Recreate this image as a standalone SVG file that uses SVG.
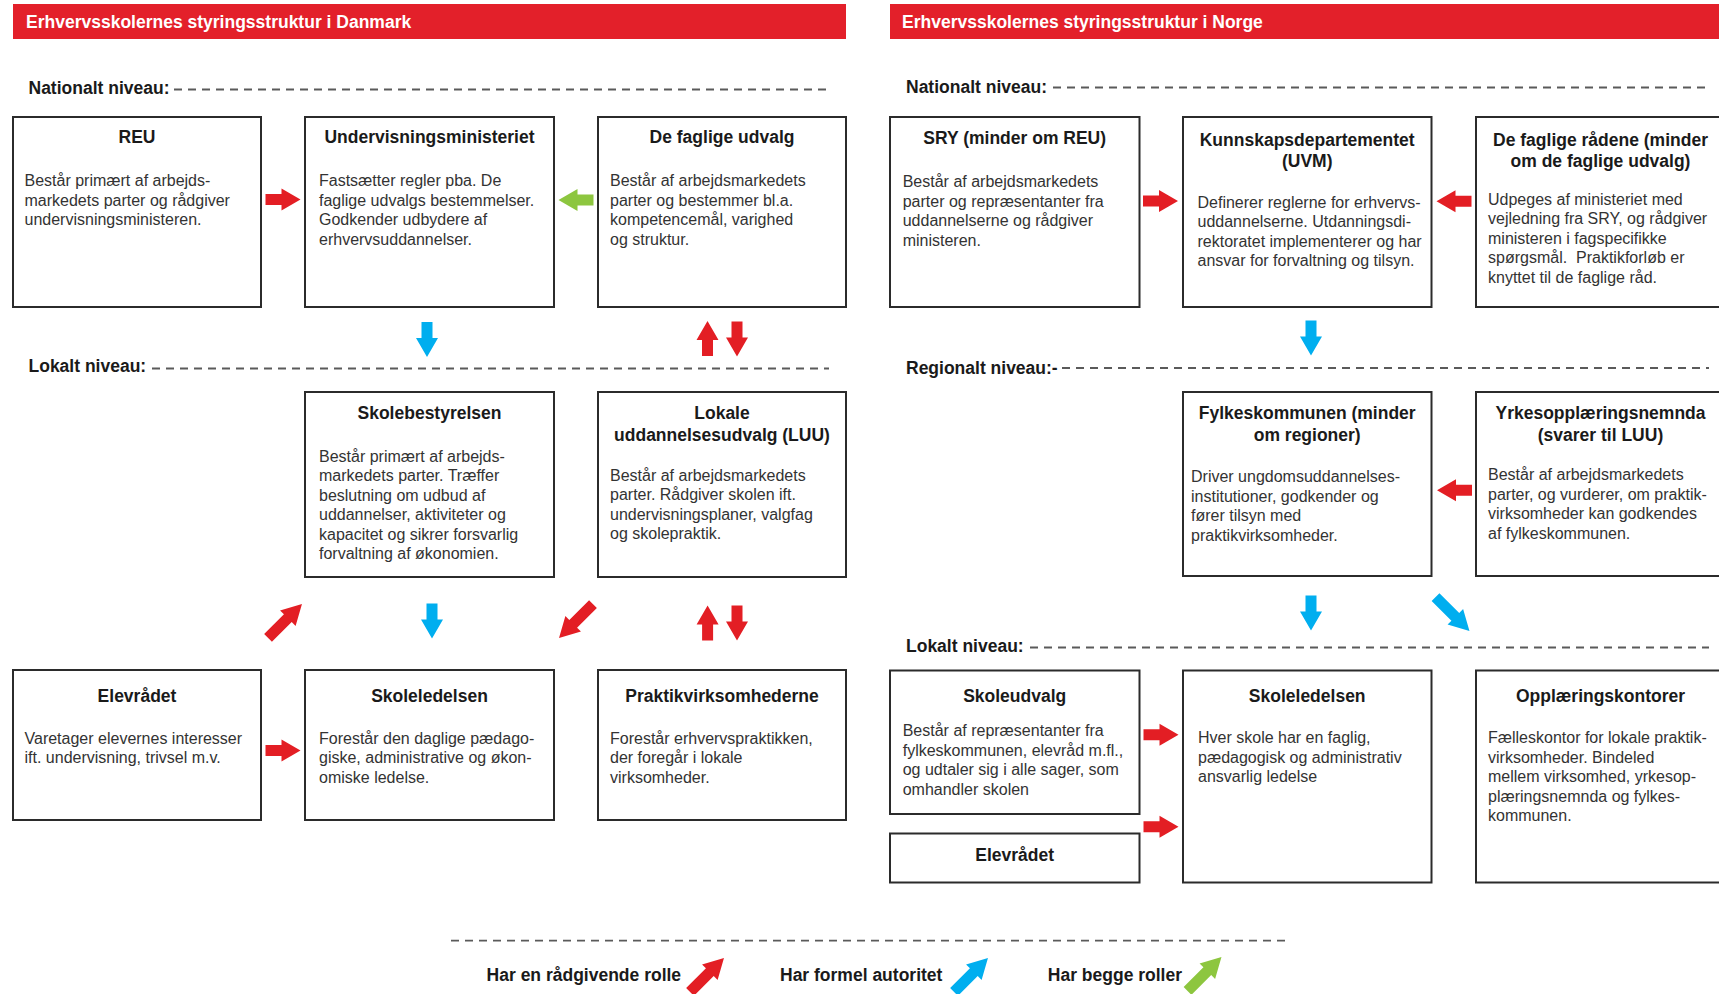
<svg xmlns="http://www.w3.org/2000/svg" xmlns:xlink="http://www.w3.org/1999/xlink" width="1719" height="994" viewBox="0 0 1719 994">
<style>
text{font-family:"Liberation Sans",Arial,Helvetica,sans-serif}
.h{font-weight:bold;font-size:17.5px;fill:#fff}
.lv{font-weight:bold;font-size:17.5px;fill:#1a1a1a}
.t{font-weight:bold;font-size:17.5px;fill:#1a1a1a;text-anchor:middle}
.b{font-size:16px;fill:#333}
.box{fill:#fff;stroke:#2b2b2b;stroke-width:2}
.dash{stroke:#5a5a5a;stroke-width:1.8;stroke-dasharray:8 6;fill:none}
.red{fill:#e31e24}
.blue{fill:#00aeef}
.green{fill:#8dc63f}
</style>
<defs>
<path id="a" d="M-17.5,-5.5 H-1.5 V-11 L17.5,0 L-1.5,11 V5.5 H-17.5 Z"/>
<path id="d" d="M-24,-5.5 H4 V-11 L24,0 L4,11 V5.5 H-24 Z"/>
</defs>
<rect width="1719" height="994" fill="#fff"/>

<g id="headers">
<rect x="13" y="4" width="833" height="35" fill="#e3202a"/>
<text class="h" x="26" y="28">Erhvervsskolernes styringsstruktur i Danmark</text>
<rect x="890" y="4" width="829" height="35" fill="#e3202a"/>
<text class="h" x="902" y="28">Erhvervsskolernes styringsstruktur i Norge</text>
</g>

<g id="levels">
<text class="lv" x="28.5" y="94">Nationalt niveau:</text>
<line class="dash" x1="174" y1="89.5" x2="832" y2="89.5"/>
<text class="lv" x="28.5" y="372">Lokalt niveau:</text>
<line class="dash" x1="152" y1="368.5" x2="829" y2="368.5"/>
<text class="lv" x="906" y="92.5">Nationalt niveau:</text>
<line class="dash" x1="1053" y1="87.5" x2="1709" y2="87.5"/>
<text class="lv" x="906" y="374">Regionalt niveau:-</text>
<line class="dash" x1="1062" y1="368" x2="1709" y2="368"/>
<text class="lv" x="906" y="652">Lokalt niveau:</text>
<line class="dash" x1="1030" y1="647.5" x2="1709" y2="647.5"/>
</g>

<!-- Denmark -->
<g id="dk-reu">
<rect class="box" x="13" y="117" width="248" height="190"/>
<text class="t" x="137" y="143">REU</text>
<text class="b" x="24.5" y="186"><tspan x="24.5">Består primært af arbejds-</tspan><tspan x="24.5" dy="19.5">markedets parter og rådgiver</tspan><tspan x="24.5" dy="19.5">undervisningsministeren.</tspan></text>
</g>
<g id="dk-uvm">
<rect class="box" x="305" y="117" width="249" height="190"/>
<text class="t" x="429.5" y="143">Undervisningsministeriet</text>
<text class="b" x="319" y="186"><tspan x="319">Fastsætter regler pba. De</tspan><tspan x="319" dy="19.5">faglige udvalgs bestemmelser.</tspan><tspan x="319" dy="19.5">Godkender udbydere af</tspan><tspan x="319" dy="19.5">erhvervsuddannelser.</tspan></text>
</g>
<g id="dk-fu">
<rect class="box" x="598" y="117" width="248" height="190"/>
<text class="t" x="722" y="143">De faglige udvalg</text>
<text class="b" x="610" y="186"><tspan x="610">Består af arbejdsmarkedets</tspan><tspan x="610" dy="19.5">parter og bestemmer bl.a.</tspan><tspan x="610" dy="19.5">kompetencemål, varighed</tspan><tspan x="610" dy="19.5">og struktur.</tspan></text>
</g>
<g id="dk-skolebestyrelsen">
<rect class="box" x="305" y="392" width="249" height="185"/>
<text class="t" x="429.5" y="419">Skolebestyrelsen</text>
<text class="b" x="319" y="461.5"><tspan x="319">Består primært af arbejds-</tspan><tspan x="319" dy="19.5">markedets parter. Træffer</tspan><tspan x="319" dy="19.5">beslutning om udbud af</tspan><tspan x="319" dy="19.5">uddannelser, aktiviteter og</tspan><tspan x="319" dy="19.5">kapacitet og sikrer forsvarlig</tspan><tspan x="319" dy="19.5">forvaltning af økonomien.</tspan></text>
</g>
<g id="dk-luu">
<rect class="box" x="598" y="392" width="248" height="185"/>
<text class="t" x="722" y="419"><tspan x="722">Lokale</tspan><tspan x="722" dy="21.5">uddannelsesudvalg (LUU)</tspan></text>
<text class="b" x="610" y="480.5"><tspan x="610">Består af arbejdsmarkedets</tspan><tspan x="610" dy="19.5">parter. Rådgiver skolen ift.</tspan><tspan x="610" dy="19.5">undervisningsplaner, valgfag</tspan><tspan x="610" dy="19.5">og skolepraktik.</tspan></text>
</g>
<g id="dk-elevraadet">
<rect class="box" x="13" y="670" width="248" height="150"/>
<text class="t" x="137" y="702">Elevrådet</text>
<text class="b" x="24.5" y="743.5"><tspan x="24.5">Varetager elevernes interesser</tspan><tspan x="24.5" dy="19.5">ift. undervisning, trivsel m.v.</tspan></text>
</g>
<g id="dk-skoleledelsen">
<rect class="box" x="305" y="670" width="249" height="150"/>
<text class="t" x="429.5" y="702">Skoleledelsen</text>
<text class="b" x="319" y="743.5"><tspan x="319">Forestår den daglige pædago-</tspan><tspan x="319" dy="19.5">giske, administrative og økon-</tspan><tspan x="319" dy="19.5">omiske ledelse.</tspan></text>
</g>
<g id="dk-praktik">
<rect class="box" x="598" y="670" width="248" height="150"/>
<text class="t" x="722" y="702">Praktikvirksomhederne</text>
<text class="b" x="610" y="743.5"><tspan x="610">Forestår erhvervspraktikken,</tspan><tspan x="610" dy="19.5">der foregår i lokale</tspan><tspan x="610" dy="19.5">virksomheder.</tspan></text>
</g>

<!-- Norway -->
<g id="no-sry">
<rect class="box" x="890" y="117" width="249.5" height="190"/>
<text class="t" x="1014.7" y="144">SRY (minder om REU)</text>
<text class="b" x="902.7" y="187"><tspan x="902.7">Består af arbejdsmarkedets</tspan><tspan x="902.7" dy="19.5">parter og repræsentanter fra</tspan><tspan x="902.7" dy="19.5">uddannelserne og rådgiver</tspan><tspan x="902.7" dy="19.5">ministeren.</tspan></text>
</g>
<g id="no-kd">
<rect class="box" x="1183" y="117" width="248.5" height="190"/>
<text class="t" x="1307.2" y="146"><tspan x="1307.2">Kunnskapsdepartementet</tspan><tspan x="1307.2" dy="21">(UVM)</tspan></text>
<text class="b" x="1197.5" y="207.5"><tspan x="1197.5">Definerer reglerne for erhvervs-</tspan><tspan x="1197.5" dy="19.5">uddannelserne. Utdanningsdi-</tspan><tspan x="1197.5" dy="19.5">rektoratet implementerer og har</tspan><tspan x="1197.5" dy="19.5">ansvar for forvaltning og tilsyn.</tspan></text>
</g>
<g id="no-fr">
<rect class="box" x="1476" y="117" width="249" height="190"/>
<text class="t" x="1600.5" y="145.5"><tspan x="1600.5">De faglige rådene (minder</tspan><tspan x="1600.5" dy="21">om de faglige udvalg)</tspan></text>
<text class="b" x="1488" y="204.5"><tspan x="1488">Udpeges af ministeriet med</tspan><tspan x="1488" dy="19.5">vejledning fra SRY, og rådgiver</tspan><tspan x="1488" dy="19.5">ministeren i fagspecifikke</tspan><tspan x="1488" dy="19.5" xml:space="preserve">spørgsmål.  Praktikforløb er</tspan><tspan x="1488" dy="19.5">knyttet til de faglige råd.</tspan></text>
</g>
<g id="no-fylke">
<rect class="box" x="1183" y="392" width="248.5" height="184"/>
<text class="t" x="1307.2" y="419"><tspan x="1307.2">Fylkeskommunen (minder</tspan><tspan x="1307.2" dy="21.5">om regioner)</tspan></text>
<text class="b" x="1191" y="482"><tspan x="1191">Driver ungdomsuddannelses-</tspan><tspan x="1191" dy="19.5">institutioner, godkender og</tspan><tspan x="1191" dy="19.5">fører tilsyn med</tspan><tspan x="1191" dy="19.5">praktikvirksomheder.</tspan></text>
</g>
<g id="no-yrkes">
<rect class="box" x="1476" y="392" width="249" height="184"/>
<text class="t" x="1600.5" y="419"><tspan x="1600.5">Yrkesopplæringsnemnda</tspan><tspan x="1600.5" dy="21.5">(svarer til LUU)</tspan></text>
<text class="b" x="1488" y="480"><tspan x="1488">Består af arbejdsmarkedets</tspan><tspan x="1488" dy="19.5">parter, og vurderer, om praktik-</tspan><tspan x="1488" dy="19.5">virksomheder kan godkendes</tspan><tspan x="1488" dy="19.5">af fylkeskommunen.</tspan></text>
</g>
<g id="no-skoleudvalg">
<rect class="box" x="890" y="670.5" width="249.5" height="143.5"/>
<text class="t" x="1014.7" y="701.5">Skoleudvalg</text>
<text class="b" x="902.7" y="736"><tspan x="902.7">Består af repræsentanter fra</tspan><tspan x="902.7" dy="19.5">fylkeskommunen, elevråd m.fl.,</tspan><tspan x="902.7" dy="19.5">og udtaler sig i alle sager, som</tspan><tspan x="902.7" dy="19.5">omhandler skolen</tspan></text>
</g>
<g id="no-elevraadet">
<rect class="box" x="890" y="833.5" width="249.5" height="49"/>
<text class="t" x="1014.7" y="860.5">Elevrådet</text>
</g>
<g id="no-skoleledelsen">
<rect class="box" x="1183" y="670.5" width="248.5" height="212"/>
<text class="t" x="1307.2" y="701.5">Skoleledelsen</text>
<text class="b" x="1198" y="743"><tspan x="1198">Hver skole har en faglig,</tspan><tspan x="1198" dy="19.5">pædagogisk og administrativ</tspan><tspan x="1198" dy="19.5">ansvarlig ledelse</tspan></text>
</g>
<g id="no-opplaering">
<rect class="box" x="1476" y="670.5" width="249" height="212"/>
<text class="t" x="1600.5" y="701.5">Opplæringskontorer</text>
<text class="b" x="1488" y="743"><tspan x="1488">Fælleskontor for lokale praktik-</tspan><tspan x="1488" dy="19.5">virksomheder. Bindeled</tspan><tspan x="1488" dy="19.5">mellem virksomhed, yrkesop-</tspan><tspan x="1488" dy="19.5">plæringsnemnda og fylkes-</tspan><tspan x="1488" dy="19.5">kommunen.</tspan></text>
</g>

<g id="connectors">
<use xlink:href="#a" class="red" transform="translate(283,199.5)"/>
<use xlink:href="#a" class="green" transform="translate(576,200) rotate(180)"/>
<use xlink:href="#a" class="blue" transform="translate(427,339.5) rotate(90)"/>
<use xlink:href="#a" class="red" transform="translate(707.5,338.5) rotate(-90)"/>
<use xlink:href="#a" class="red" transform="translate(737,339) rotate(90)"/>
<use xlink:href="#d" class="red" transform="translate(285,621) rotate(-45)"/>
<use xlink:href="#a" class="blue" transform="translate(432,621) rotate(90)"/>
<use xlink:href="#d" class="red" transform="translate(576,621) rotate(135)"/>
<use xlink:href="#a" class="red" transform="translate(707.6,623) rotate(-90)"/>
<use xlink:href="#a" class="red" transform="translate(737,623) rotate(90)"/>
<use xlink:href="#a" class="red" transform="translate(283,750.5)"/>
<use xlink:href="#a" class="red" transform="translate(1160.5,201)"/>
<use xlink:href="#a" class="red" transform="translate(1454,201.3) rotate(180)"/>
<use xlink:href="#a" class="blue" transform="translate(1311,338) rotate(90)"/>
<use xlink:href="#a" class="red" transform="translate(1454.5,490.3) rotate(180)"/>
<use xlink:href="#a" class="blue" transform="translate(1311,613) rotate(90)"/>
<use xlink:href="#d" class="blue" transform="translate(1452.5,614) rotate(45)"/>
<use xlink:href="#a" class="red" transform="translate(1161,734.8)"/>
<use xlink:href="#a" class="red" transform="translate(1161,826.8)"/>
</g>

<g id="legend">
<line class="dash" x1="451" y1="940.7" x2="1285" y2="940.7"/>
<text class="lv" x="486.6" y="981">Har en rådgivende rolle</text>
<use xlink:href="#d" class="red" transform="translate(707,975) rotate(-45)"/>
<text class="lv" x="780" y="981">Har formel autoritet</text>
<use xlink:href="#d" class="blue" transform="translate(971,975) rotate(-45)"/>
<text class="lv" x="1047.8" y="981">Har begge roller</text>
<use xlink:href="#d" class="green" transform="translate(1204.5,974) rotate(-45)"/>
</g>
</svg>
